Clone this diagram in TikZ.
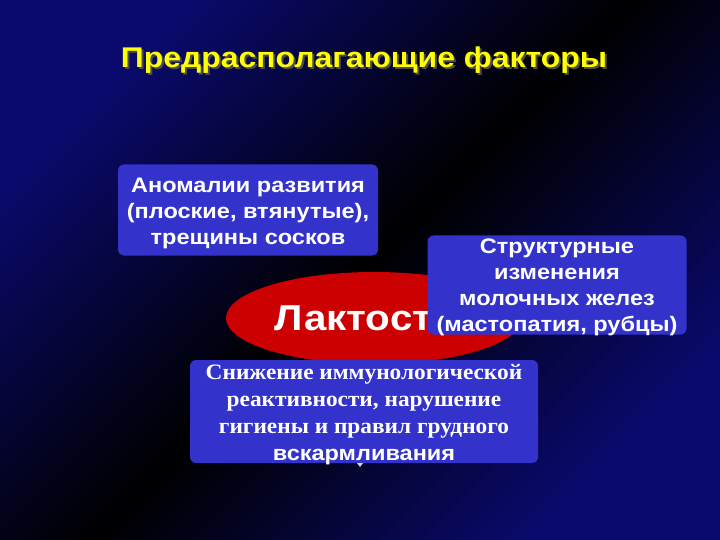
\documentclass[tikz,border=0pt]{standalone}
\usepackage{fontspec}
\setmainfont{Liberation Sans}
\newfontfamily\tsans[FakeStretch=1.12]{Liberation Sans}
\newfontfamily\tserif[FakeStretch=1.06]{Liberation Serif}
\usetikzlibrary{shapes.geometric}
\definecolor{bgblue}{RGB}{10,10,110}
\definecolor{boxblue}{RGB}{51,51,204}
\definecolor{ellred}{RGB}{204,0,0}
\definecolor{titleyellow}{RGB}{255,255,0}
\tikzset{
  factorbox/.style={fill=boxblue, rounded corners=6bp, inner sep=0pt},
  boxtext/.style={text=white, align=center, inner sep=0pt},
  boxfont/.style={font=\tsans\bfseries\fontsize{21bp}{26bp}\selectfont},
  serfont/.style={font=\tserif\bfseries\fontsize{22bp}{26.8bp}\selectfont},
  titlefont/.style={font=\tsans\bfseries\fontsize{28.5bp}{30bp}\selectfont},
}
\begin{document}
\begin{tikzpicture}[x=1bp,y=-1bp]
\useasboundingbox (0,0) rectangle (720,540);
\shade[top color=bgblue, bottom color=bgblue, middle color=black, shading angle=45] (0,0) rectangle (720,540);
% title with shadow
\node[text=black!70, titlefont] (titleshadow) at (366,62) {Предрасполагающие факторы};
\node[text=titleyellow, titlefont] (title) at (364,60) {Предрасполагающие факторы};
% box 1
\node[factorbox, minimum width=260bp, minimum height=91bp] (anom) at (248,210) {};
\node[boxtext, boxfont] (anomtext) at (248,213)
  {Аномалии развития\\(плоские, втянутые),\\трещины сосков};
% ellipse
\node[ellipse, fill=ellred, minimum width=296bp, minimum height=92bp, inner sep=0pt] (ell) at (374,318) {};
\node[text=white, font=\tsans\bfseries\fontsize{36bp}{38bp}\selectfont] (lact) at (375,318) {Лактостаз};
% box 2
\node[factorbox, minimum width=259bp, minimum height=99bp] (struct) at (557,285) {};
\node[boxtext, boxfont] (structtext) at (557,287)
  {Структурные\\изменения\\молочных желез\\(мастопатия, рубцы)};
% box 3
\node[factorbox, minimum width=348bp, minimum height=103bp] (immun) at (364,411.5) {};
\node[boxtext, serfont] (immuntext) at (364,414.5)
  {Снижение иммунологической\\реактивности, нарушение\\гигиены и правил грудного\\{\tsans\bfseries\fontsize{21bp}{26.8bp}\selectfont вскармливания}};
% small arrow tip below box 3
\fill[white!80!boxblue] (357,463) -- (363,463) -- (360,467) -- cycle;
\end{tikzpicture}
\end{document}
